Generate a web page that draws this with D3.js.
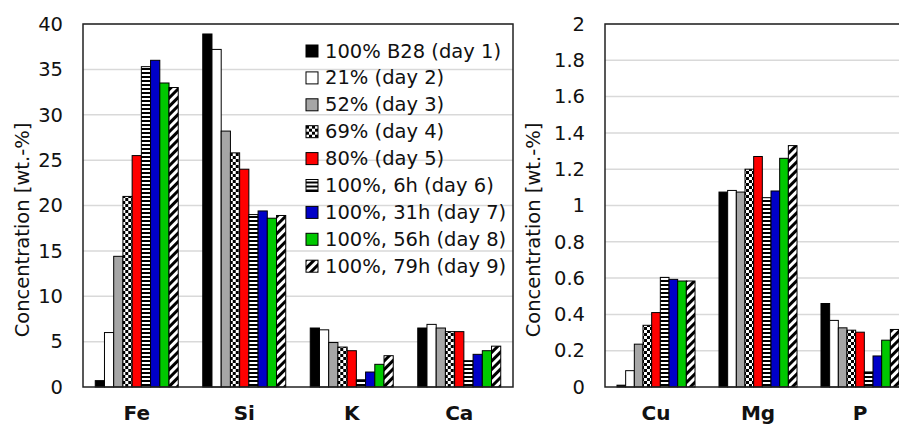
<!DOCTYPE html>
<html>
<head>
<meta charset="utf-8">
<script src="https://cdn.jsdelivr.net/npm/d3@7"></script>
<style>
  body { margin: 0; background: #fff; }
  svg { font-family: "DejaVu Sans", Verdana, sans-serif; }
</style>
</head>
<body>
<div id="chart"></div>
<script>
// series (one per day)
var seriesNames = ["100% B28 (day 1)", "21% (day 2)", "52% (day 3)", "69% (day 4)", "80% (day 5)",
                   "100%, 6h (day 6)", "100%, 31h (day 7)", "100%, 56h (day 8)", "100%, 79h (day 9)"];

// left panel: main elements
var leftCategories = ["Fe", "Si", "K", "Ca"];
var leftValues = [          // rows follow leftCategories, columns follow seriesNames
  [0.7, 6.0, 14.4, 21.0, 25.5, 35.3, 36.0, 33.5, 33.0],
  [38.9, 37.2, 28.2, 25.8, 24.0, 19.0, 19.4, 18.6, 18.9],
  [6.5, 6.3, 4.9, 4.4, 4.0, 0.8, 1.65, 2.5, 3.45],
  [6.5, 6.9, 6.5, 6.1, 6.1, 2.9, 3.6, 4.0, 4.5]
];
var leftTicks = [0, 5, 10, 15, 20, 25, 30, 35, 40];

// right panel: minor elements
var rightCategories = ["Cu", "Mg", "P"];
var rightValues = [
  [0.01, 0.09, 0.236, 0.34, 0.41, 0.604, 0.593, 0.584, 0.584],
  [1.074, 1.083, 1.074, 1.2, 1.27, 1.043, 1.08, 1.26, 1.33],
  [0.46, 0.367, 0.326, 0.313, 0.302, 0.083, 0.171, 0.258, 0.317]
];
var rightTicks = [0, 0.2, 0.4, 0.6, 0.8, 1, 1.2, 1.4, 1.6, 1.8, 2];

var width = 899, height = 425;

var svg = d3.select("#chart")
  .append("svg")
    .attr("width", width)
    .attr("height", height);

// fill patterns
var defs = svg.append("defs");

var checker = defs.append("pattern")
  .attr("id", "checker").attr("patternUnits", "userSpaceOnUse")
  .attr("width", 6).attr("height", 6);
checker.append("rect").attr("width", 6).attr("height", 6).attr("fill", "#fff");
checker.append("rect").attr("width", 3).attr("height", 3).attr("fill", "#000");
checker.append("rect").attr("x", 3).attr("y", 3).attr("width", 3).attr("height", 3).attr("fill", "#000");

var hstripe = defs.append("pattern")
  .attr("id", "hstripe").attr("patternUnits", "userSpaceOnUse")
  .attr("width", 4).attr("height", 4);
hstripe.append("rect").attr("width", 4).attr("height", 4).attr("fill", "#fff");
hstripe.append("rect").attr("width", 4).attr("height", 2).attr("fill", "#000");

var diag = defs.append("pattern")
  .attr("id", "diag").attr("patternUnits", "userSpaceOnUse")
  .attr("width", 6).attr("height", 6)
  .attr("patternTransform", "rotate(45)");
diag.append("rect").attr("width", 6).attr("height", 6).attr("fill", "#fff");
diag.append("rect").attr("width", 3).attr("height", 6).attr("fill", "#000");

var fills = ["#000000", "#ffffff", "#a6a6a6", "url(#checker)", "#ff0000",
             "url(#hstripe)", "#0000c8", "#00c800", "url(#diag)"];

function drawPanel(opts) {
  var g = svg.append("g");

  var x0 = d3.scaleBand()
    .domain(opts.categories)
    .range([opts.left, opts.right])
    .paddingInner(opts.padding)
    .paddingOuter(opts.padding / 2);

  var x1 = d3.scaleBand()
    .domain(d3.range(seriesNames.length))
    .range([0, x0.bandwidth()]);

  var y = d3.scaleLinear()
    .domain(opts.domain)
    .range([387, 24]);

  // gridlines
  g.append("g")
    .selectAll("line")
    .data(opts.ticks.slice(1))
    .enter()
    .append("line")
      .attr("x1", opts.left).attr("x2", opts.right)
      .attr("y1", d => y(d)).attr("y2", d => y(d))
      .attr("stroke", "#d9d9d9")
      .attr("stroke-width", 1.5);

  // y axis labels
  var yAxis = g.append("g")
    .attr("transform", "translate(" + (opts.left - 20) + ",0)")
    .call(d3.axisLeft(y).tickValues(opts.ticks).tickSize(0).tickPadding(0)
      .tickFormat(d3.format("")));
  yAxis.select(".domain").remove();
  yAxis.selectAll("text")
    .attr("font-size", "19.5px")
    .attr("font-family", "DejaVu Sans, Verdana, sans-serif")
    .attr("fill", "#111");

  // bars
  var groups = g.append("g")
    .selectAll("g")
    .data(opts.values)
    .enter()
    .append("g")
      .attr("transform", (d, i) => "translate(" + x0(opts.categories[i]) + ",0)");

  groups.selectAll("rect")
    .data(d => d)
    .enter()
    .append("rect")
      .attr("x", (d, i) => x1(i))
      .attr("y", d => y(d))
      .attr("width", x1.bandwidth())
      .attr("height", d => y(0) - y(d))
      .attr("fill", (d, i) => fills[i])
      .attr("stroke", "#000")
      .attr("stroke-width", 1);

  // plot frame
  g.append("rect")
    .attr("x", opts.left).attr("y", 24)
    .attr("width", opts.right - opts.left).attr("height", 387 - 24)
    .attr("fill", "none")
    .attr("stroke", "#222")
    .attr("stroke-width", 1.5);

  // category labels
  var xAxis = g.append("g")
    .attr("transform", "translate(0,387)")
    .call(d3.axisBottom(x0).tickSize(0).tickPadding(0));
  xAxis.select(".domain").remove();
  xAxis.selectAll("text")
    .attr("y", 33)
    .attr("dy", 0)
    .attr("font-size", "20px")
    .attr("font-weight", "bold")
    .attr("font-family", "DejaVu Sans, Verdana, sans-serif")
    .attr("fill", "#111");

  // y axis title
  g.append("text")
    .attr("transform", "translate(" + opts.titleX + ",230) rotate(-90)")
    .attr("text-anchor", "middle")
    .attr("dominant-baseline", "central")
    .attr("font-size", "19.5px")
    .attr("fill", "#111")
    .text("Concentration [wt.-%]");
}

drawPanel({
  categories: leftCategories, values: leftValues, ticks: leftTicks,
  domain: [0, 40], left: 83, right: 513, padding: 0.228, titleX: 22
});

drawPanel({
  categories: rightCategories, values: rightValues, ticks: rightTicks,
  domain: [0, 2], left: 605, right: 911, padding: 0.235, titleX: 533
});

// legend
var legend = svg.append("g")
  .attr("transform", "translate(306,51)");

var items = legend.selectAll("g")
  .data(seriesNames)
  .enter()
  .append("g")
    .attr("transform", (d, i) => "translate(0," + (i * 26.9) + ")");

items.append("rect")
  .attr("x", 0).attr("y", -6)
  .attr("width", 12).attr("height", 12)
  .attr("fill", (d, i) => fills[i])
  .attr("stroke", "#000")
  .attr("stroke-width", 1);

items.append("text")
  .attr("x", 19)
  .attr("dominant-baseline", "central")
  .attr("font-size", "19.5px")
  .attr("fill", "#111")
  .text(d => d);
</script>
</body>
</html>
